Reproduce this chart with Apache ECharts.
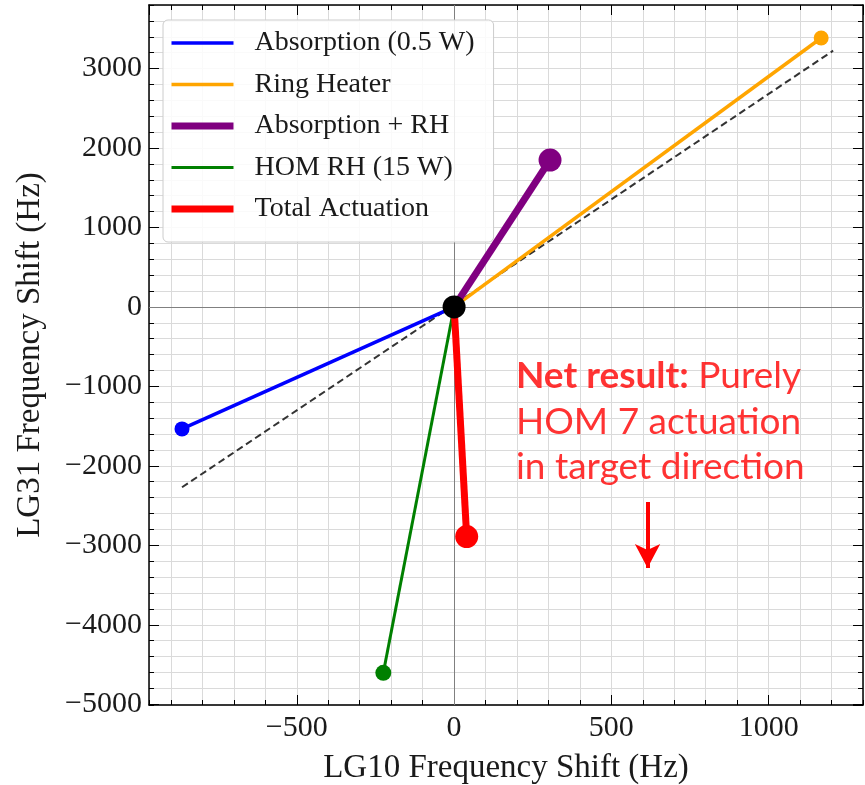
<!DOCTYPE html>
<html><head><meta charset="utf-8">
<script src="https://cdn.jsdelivr.net/npm/echarts@6/dist/echarts.min.js"></script>
<style>html,body{margin:0;padding:0;background:#fff}#c{width:865px;height:785px}</style>
</head><body><div id="c"></div>
<script>
// ---- data ----
const seriesNames = ['Absorption (0.5 W)', 'Ring Heater', 'Absorption + RH', 'HOM RH (15 W)', 'Total Actuation'];
const endX = [-865, 1167, 305, -225, 40];
const endY = [-1535, 3385, 1849, -4605, -2890];
const originPoint = [0, 0];
const targetLineX = [-865, 1205];
const targetLineY = [-2270, 3225];
const arrowX = [615, 615];
const arrowY = [-2455, -3286];
const noteAnchor = [195, -1445];
const noteBold = 'Net result:';
const noteRest = [' Purely', 'HOM 7 actuation', 'in target direction'];
const xRange = [-970, 1300];
const yRange = [-5010, 3800];
const xSteps = [500, 100];
const ySteps = [1000, 200];
const xTitle = 'LG10 Frequency Shift (Hz)';
const yTitle = 'LG31 Frequency Shift (Hz)';

// ---- styles ----
const seriesColors = ['#0000ff', '#ffa500', '#800080', '#008000', '#ff0000'];
const lineWidths = [3.5, 3.5, 7, 3, 7];
const markerSizes = [15, 15, 23, 16, 23];
const serif = 'Liberation Serif';
const gridColor = '#dadada';

const fmt = v => String(v).replace('-', '\u2212');

function xAxisDef(pos, step, isMajor, labels) {
  return {
    type: 'value', position: pos, min: xRange[0], max: xRange[1],
    minInterval: step, maxInterval: step, splitNumber: Math.round((xRange[1] - xRange[0]) / step),
    axisLine: { show: isMajor, onZero: false, lineStyle: { color: '#000', width: 1.5 } },
    axisTick: { show: true, inside: true, length: isMajor ? 10 : 5, lineStyle: { color: '#000', width: 1 } },
    axisLabel: { show: labels, margin: 8, formatter: fmt, showMinLabel: false, showMaxLabel: false,
      fontFamily: serif, fontSize: 30, color: '#1a1a1a' },
    splitLine: { show: pos === 'bottom', lineStyle: { color: gridColor, width: 1 } },
    name: labels ? xTitle : '', nameLocation: 'middle', nameGap: 47,
    nameTextStyle: { fontFamily: serif, fontSize: 33, color: '#1a1a1a' }
  };
}
function yAxisDef(pos, step, isMajor, labels) {
  return {
    type: 'value', position: pos, min: yRange[0], max: yRange[1],
    minInterval: step, maxInterval: step, splitNumber: Math.round((yRange[1] - yRange[0]) / step),
    axisLine: { show: isMajor, onZero: false, lineStyle: { color: '#000', width: 1.5 } },
    axisTick: { show: true, inside: true, length: isMajor ? 10 : 5, lineStyle: { color: '#000', width: 1 } },
    axisLabel: { show: labels, margin: 7, formatter: fmt, showMinLabel: false, showMaxLabel: false,
      fontFamily: serif, fontSize: 30, color: '#1a1a1a' },
    splitLine: { show: pos === 'left', lineStyle: { color: gridColor, width: 1 } },
    name: labels ? yTitle : '', nameLocation: 'middle', nameGap: 102,
    nameTextStyle: { fontFamily: serif, fontSize: 33, color: '#1a1a1a' }
  };
}

const series = [];
series.push({
  name: 'target', type: 'line', data: [[targetLineX[0], targetLineY[0]], [targetLineX[1], targetLineY[1]]],
  symbol: 'none', z: 2, silent: true,
  lineStyle: { color: '#333', width: 2, type: [7, 4] },
  markLine: {
    silent: true, symbol: ['none', 'none'], z: 1, label: { show: false },
    lineStyle: { color: '#808080', width: 1, type: 'solid' },
    data: [{ xAxis: 0 }, { yAxis: 0 }]
  }
});
seriesNames.forEach((n, i) => {
  series.push({
    name: n, type: 'line', z: 3 + i, silent: true,
    data: [{ value: originPoint, symbol: 'none' }, { value: [endX[i], endY[i]] }],
    symbol: 'circle', symbolSize: markerSizes[i], showSymbol: true,
    itemStyle: { color: seriesColors[i] },
    lineStyle: { color: seriesColors[i], width: lineWidths[i] },
    emphasis: { disabled: true }
  });
});
series.push({
  name: 'origin', type: 'scatter', data: [originPoint], symbolSize: 23, z: 10, silent: true,
  itemStyle: { color: '#000', opacity: 1 }
});
series.push({
  name: 'note', type: 'scatter', data: [noteAnchor], symbolSize: 1, z: 10, silent: true,
  itemStyle: { color: 'rgba(0,0,0,0)' },
  label: {
    show: true, position: 'right', distance: 0,
    formatter: '{b|' + noteBold + '}' + noteRest.join('\n'),
    fontFamily: 'Lato', fontSize: 37, lineHeight: 45.5, color: '#ff0000',
    rich: { b: { fontFamily: 'Lato', fontWeight: 'bold', fontSize: 37, lineHeight: 45.5, color: '#ff0000' } }
  },
  markLine: {
    silent: true, symbol: ['none', 'arrow'], symbolSize: 24, z: 6, label: { show: false },
    lineStyle: { color: '#ff0000', width: 4, type: 'solid' },
    itemStyle: { color: '#ff0000' },
    data: [[{ coord: [arrowX[0], arrowY[0]] }, { coord: [arrowX[1], arrowY[1]], symbolSize: [19, 24] }]]
  }
});

const chart = echarts.init(document.getElementById('c'), null, { renderer: 'canvas' });
chart.setOption({
  animation: false,
  backgroundColor: '#fff',
  grid: { left: 149, top: 5, width: 714, height: 700, containLabel: false, outerBoundsMode: 'none' },
  xAxis: [
    xAxisDef('bottom', xSteps[0], true, true),
    xAxisDef('bottom', xSteps[1], false, false),
    xAxisDef('top', xSteps[0], true, false),
    xAxisDef('top', xSteps[1], false, false)
  ],
  yAxis: [
    yAxisDef('left', ySteps[0], true, true),
    yAxisDef('left', ySteps[1], false, false),
    yAxisDef('right', ySteps[0], true, false),
    yAxisDef('right', ySteps[1], false, false)
  ],
  legend: {
    orient: 'vertical', left: 163, top: 20, padding: [8, 19, 18, 5], itemGap: 11.5,
    itemWidth: 62, itemHeight: 8, selectedMode: false,
    backgroundColor: 'rgba(255,255,255,0.85)', borderColor: '#cccccc', borderWidth: 1, borderRadius: 5,
    textStyle: { fontFamily: serif, fontSize: 28, color: '#1a1a1a', lineHeight: 30, padding: [0, 0, 0, 16] },
    itemStyle: { opacity: 0 },
    data: seriesNames.map((n, i) => ({ name: n, lineStyle: { width: lineWidths[i], color: seriesColors[i] } }))
  },
  series: series
});
</script></body></html>
